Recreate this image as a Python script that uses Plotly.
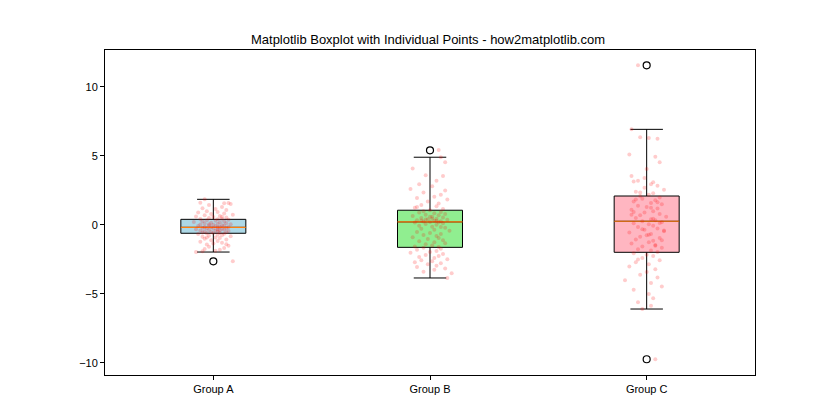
import plotly.graph_objects as go

# --- Data ---
groups = ["Group A", "Group B", "Group C"]
positions = [1, 2, 3]

q1 = [-0.60, -1.62, -1.98]
median = [-0.17, 0.22, 0.27]
q3 = [0.41, 1.07, 2.10]
lower_whisker = [-1.96, -3.84, -6.09]
upper_whisker = [1.86, 4.91, 6.93]

outlier_group = [1, 2, 3, 3]
outlier_vals = [-2.63, 5.41, 11.57, -9.73]

a_vals = [
    1.86, 1.62, 1.60, 1.57, 1.52, 1.45, 1.30, 1.22, 1.15, 1.08,
    1.00, 0.95, 0.90, 0.84, 0.80, 0.74, 0.70, 0.66, 0.62, 0.58,
    0.55, 0.50, 0.46, 0.43, 0.41, 0.38, 0.35, 0.31, 0.28, 0.25,
    0.22, 0.19, 0.16, 0.13, 0.10, 0.08, 0.05, 0.03, 0.01, -0.02,
    -0.04, -0.06, -0.08, -0.10, -0.12, -0.14, -0.15, -0.17, -0.18, -0.20,
    -0.22, -0.24, -0.26, -0.28, -0.30, -0.32, -0.34, -0.36, -0.38, -0.40,
    -0.42, -0.44, -0.46, -0.48, -0.50, -0.52, -0.54, -0.56, -0.58, -0.60,
    -0.63, -0.66, -0.70, -0.74, -0.78, -0.82, -0.86, -0.90, -0.95, -1.00,
    -1.05, -1.10, -1.16, -1.22, -1.28, -1.35, -1.42, -1.50, -1.58, -1.66,
    -1.74, -1.80, -1.86, -1.90, -1.96, -1.40, -0.90, 0.60, -2.63, 0.05,
]
a_jitter = [
    -0.04, -0.06, 0.07, 0.05, 0.08, -0.02, 0.04, -0.05, 0.01, 0.06,
    -0.03, 0.02, -0.07, 0.05, -0.01, 0.09, -0.04, 0.03, -0.08, 0.00,
    0.06, -0.02, 0.04, -0.06, 0.02, 0.07, -0.03, 0.01, -0.05, 0.05,
    -0.09, 0.03, -0.01, 0.06, -0.04, 0.02, 0.08, -0.06, 0.00, 0.04,
    -0.02, 0.05, -0.07, 0.01, 0.03, -0.04, 0.07, -0.01, 0.02, -0.05,
    0.06, -0.03, 0.00, 0.04, -0.08, 0.02, 0.05, -0.02, 0.03, -0.06,
    0.01, 0.07, -0.04, 0.02, -0.01, 0.06, -0.05, 0.03, 0.00, -0.03,
    0.05, -0.07, 0.02, 0.04, -0.02, 0.08, -0.05, 0.01, 0.03, -0.04,
    0.06, -0.01, 0.02, -0.06, 0.04, 0.00, -0.03, 0.07, -0.02, 0.05,
    -0.04, 0.03, 0.01, -0.05, -0.08, 0.06, -0.03, 0.04, 0.09, -0.02,
]

b_vals = [
    5.43, 4.91, 4.55, 4.10, 3.60, 3.55, 3.20, 2.95, 2.80, 2.60,
    2.50, 2.35, 2.20, 2.05, 1.95, 1.85, 1.70, 1.55, 1.45, 1.35,
    1.25, 1.15, 1.07, 1.00, 0.95, 0.90, 0.85, 0.80, 0.75, 0.70,
    0.65, 0.60, 0.55, 0.50, 0.45, 0.42, 0.38, 0.35, 0.30, 0.28,
    0.25, 0.22, 0.20, 0.18, 0.12, 0.08, 0.02, -0.05, -0.12, -0.20,
    -0.28, -0.35, -0.42, -0.50, -0.58, -0.65, -0.72, -0.80, -0.88, -0.95,
    -1.02, -1.10, -1.18, -1.25, -1.32, -1.40, -1.48, -1.55, -1.60, -1.65,
    -1.72, -1.80, -1.88, -1.95, -2.02, -2.10, -2.18, -2.25, -2.32, -2.40,
    -2.48, -2.55, -2.62, -2.70, -2.78, -2.85, -2.95, -3.05, -3.15, -3.25,
    -3.38, -3.50, -3.84, 0.40, 0.30, 0.45, 0.33, -0.15, 0.60, 1.30,
]
b_jitter = [
    0.04, 0.05, 0.07, -0.08, -0.02, 0.06, 0.03, -0.05, 0.01, -0.09,
    0.07, -0.03, 0.05, 0.02, -0.06, 0.08, -0.01, 0.04, -0.04, 0.03,
    -0.07, 0.06, 0.00, -0.03, 0.05, -0.05, 0.02, 0.07, -0.02, 0.04,
    -0.08, 0.01, 0.06, -0.04, 0.03, -0.01, 0.08, -0.06, 0.02, 0.05,
    -0.03, 0.00, 0.04, -0.07, 0.06, -0.02, 0.03, -0.05, 0.01, 0.07,
    -0.04, 0.02, 0.09, -0.06, 0.00, 0.05, -0.03, 0.03, -0.08, 0.04,
    -0.01, 0.06, -0.05, 0.02, 0.07, -0.02, 0.01, -0.07, 0.04, -0.03,
    0.05, -0.06, 0.03, 0.00, -0.09, 0.06, -0.02, 0.04, -0.05, 0.02,
    0.08, -0.04, 0.01, -0.07, 0.05, -0.01, 0.03, -0.06, 0.07, 0.02,
    -0.03, 0.10, 0.08, -0.02, 0.03, 0.01, -0.04, 0.05, 0.00, -0.06,
]

c_vals = [
    11.57, 6.93, 6.35, 6.30, 6.25, 5.10, 4.95, 4.55, 4.05, 3.55,
    3.20, 3.15, 3.10, 2.95, 2.85, 2.70, 2.55, 2.40, 2.30, 2.20,
    2.10, 2.00, 1.90, 1.80, 1.70, 1.60, 1.50, 1.40, 1.30, 1.20,
    1.10, 1.00, 0.90, 0.80, 0.70, 0.60, 0.50, 0.42, 0.35, 0.27,
    0.20, 0.12, 0.05, -0.05, -0.15, -0.25, -0.35, -0.45, -0.55, -0.65,
    -0.75, -0.85, -0.95, -1.05, -1.15, -1.25, -1.35, -1.45, -1.55, -1.65,
    -1.75, -1.85, -1.95, -2.05, -2.15, -2.25, -2.40, -2.55, -2.70, -2.85,
    -3.00, -3.20, -3.40, -3.60, -3.80, -4.00, -4.20, -4.45, -4.70, -5.00,
    -5.30, -5.60, -5.85, -6.09, -9.73, 1.65, 0.95, 0.45, -0.30, -1.10,
    1.85, -0.70, 0.15, 2.35, -1.50, 0.75, 1.25, -0.40, 3.40, -2.50,
]
c_jitter = [
    -0.04, -0.07, -0.03, 0.01, 0.05, -0.08, 0.04, 0.06, 0.00, -0.07,
    -0.04, -0.06, 0.03, 0.02, 0.05, -0.01, 0.08, -0.05, 0.03, 0.01,
    -0.03, 0.06, -0.02, 0.04, -0.06, 0.02, 0.07, -0.04, 0.00, 0.05,
    -0.07, 0.03, -0.01, 0.06, -0.03, 0.09, -0.05, 0.02, 0.04, -0.02,
    0.07, -0.06, 0.01, 0.03, -0.04, 0.05, -0.01, 0.08, -0.08, 0.02,
    0.00, -0.03, 0.06, -0.05, 0.03, 0.01, -0.07, 0.04, -0.02, 0.07,
    -0.04, 0.02, 0.05, -0.06, 0.00, 0.03, -0.02, 0.06, -0.05, 0.01,
    -0.08, 0.04, 0.00, -0.03, 0.05, -0.10, 0.02, 0.07, -0.06, 0.01,
    0.03, -0.04, 0.02, -0.02, 0.04, 0.05, -0.06, 0.03, -0.02, 0.07,
    -0.05, 0.01, 0.06, -0.03, 0.04, -0.07, 0.02, 0.08, -0.01, -0.04,
]

point_vals = [a_vals, b_vals, c_vals]
point_jitter = [a_jitter, b_jitter, c_jitter]

box_colors = ["lightblue", "lightgreen", "lightpink"]
box_width = 0.3

# --- Plot ---
fig = go.Figure()

for i, pos in enumerate(positions):
    fig.add_trace(
        go.Box(
            x=[pos],
            q1=[q1[i]],
            median=[median[i]],
            q3=[q3[i]],
            lowerfence=[lower_whisker[i]],
            upperfence=[upper_whisker[i]],
            width=box_width,
            whiskerwidth=0.5,
            fillcolor=box_colors[i],
            line=dict(color="black", width=1),
            boxpoints=False,
            showlegend=False,
            hoverinfo="skip",
        )
    )

# orange median lines on top of the boxes
for i, pos in enumerate(positions):
    fig.add_trace(
        go.Scatter(
            x=[pos - box_width / 2, pos + box_width / 2],
            y=[median[i], median[i]],
            mode="lines",
            line=dict(color="#ff7f0e", width=1.2),
            showlegend=False,
            hoverinfo="skip",
        )
    )

# flier circles
fig.add_trace(
    go.Scatter(
        x=outlier_group,
        y=outlier_vals,
        mode="markers",
        marker=dict(
            symbol="circle-open", size=7, color="black", line=dict(width=1.2)
        ),
        showlegend=False,
        hoverinfo="skip",
    )
)

# individual jittered points
for i, pos in enumerate(positions):
    fig.add_trace(
        go.Scatter(
            x=[pos + j for j in point_jitter[i]],
            y=point_vals[i],
            mode="markers",
            marker=dict(color="rgba(255,0,0,0.2)", size=4, line=dict(width=0)),
            showlegend=False,
            hoverinfo="skip",
        )
    )

axis_style = dict(
    showline=True,
    linecolor="black",
    linewidth=1,
    mirror=True,
    showgrid=False,
    zeroline=False,
    ticks="outside",
    ticklen=4,
    tickcolor="black",
    tickfont=dict(size=11, color="black"),
)

fig.update_layout(
    width=840,
    height=420,
    title=dict(
        text="Matplotlib Boxplot with Individual Points - how2matplotlib.com",
        font=dict(size=13, color="black"),
        x=0.5,
        xanchor="center",
        y=0.925,
        yanchor="middle",
    ),
    font=dict(family="Liberation Sans, Arial, sans-serif"),
    plot_bgcolor="white",
    paper_bgcolor="white",
    margin=dict(l=97, r=93, t=42, b=53),
    xaxis=dict(
        axis_style,
        range=[0.5, 3.5],
        tickvals=positions,
        ticktext=groups,
    ),
    yaxis=dict(
        axis_style,
        range=[-10.87, 12.68],
        tickvals=[-10, -5, 0, 5, 10],
    ),
)

fig.write_html("out.html")
